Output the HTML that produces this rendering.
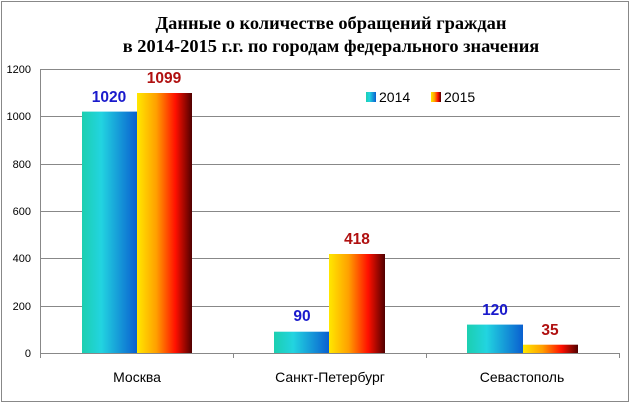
<!DOCTYPE html>
<html><head><meta charset="utf-8"><style>
body{margin:0;background:#fff;}
svg{display:block;}
</style></head><body>
<svg width="631" height="405" xmlns="http://www.w3.org/2000/svg">
<defs>
<linearGradient id="g14" x1="0" x2="1" y1="0" y2="0">
<stop offset="0" stop-color="#1ccfb0"/><stop offset="0.35" stop-color="#22d4e0"/><stop offset="1" stop-color="#0a5fd0"/>
</linearGradient>
<linearGradient id="g15" x1="0" x2="1" y1="0" y2="0">
<stop offset="0" stop-color="#ffe800"/><stop offset="0.35" stop-color="#ffa000"/><stop offset="0.7" stop-color="#ff1000"/><stop offset="1" stop-color="#500000"/>
</linearGradient>
</defs>
<rect x="1.5" y="1.5" width="627" height="400" fill="#fff" stroke="#888" stroke-width="1"/>
<text x="331" y="29" text-anchor="middle" font-family="Liberation Serif, serif" font-weight="bold" font-size="18.4">Данные о количестве обращений граждан</text>
<text x="331" y="52" text-anchor="middle" font-family="Liberation Serif, serif" font-weight="bold" font-size="18.4">в 2014-2015 г.г. по городам федерального значения</text>
<g stroke="#888" stroke-width="1">
<line x1="40" x2="620" y1="69.5" y2="69.5"/>
<line x1="40" x2="620" y1="116.5" y2="116.5"/>
<line x1="40" x2="620" y1="164.5" y2="164.5"/>
<line x1="40" x2="620" y1="211.5" y2="211.5"/>
<line x1="40" x2="620" y1="258.5" y2="258.5"/>
<line x1="40" x2="620" y1="306.5" y2="306.5"/>
<line x1="40" x2="620" y1="353.5" y2="353.5"/>
<line x1="40.5" x2="40.5" y1="69" y2="358"/>
<line x1="233.5" x2="233.5" y1="353" y2="358"/>
<line x1="426.5" x2="426.5" y1="353" y2="358"/>
<line x1="619.5" x2="619.5" y1="353" y2="358"/>
</g>
<g font-family="Liberation Sans, sans-serif" font-size="11" text-anchor="end" fill="#000">
<text x="31" y="73">1200</text><text x="31" y="120">1000</text><text x="31" y="168">800</text>
<text x="31" y="215">600</text><text x="31" y="262">400</text><text x="31" y="310">200</text><text x="31" y="357">0</text>
</g>
<rect x="82" y="111.6" width="55" height="241.4" fill="url(#g14)"/>
<rect x="137" y="93" width="55" height="260" fill="url(#g15)"/>
<rect x="274" y="331.7" width="55" height="21.3" fill="url(#g14)"/>
<rect x="329" y="254" width="56" height="99" fill="url(#g15)"/>
<rect x="467" y="324.6" width="56" height="28.4" fill="url(#g14)"/>
<rect x="523" y="344.7" width="55" height="8.3" fill="url(#g15)"/>
<g font-family="Liberation Sans, sans-serif" font-weight="bold" font-size="15.5" text-anchor="middle">
<text x="109" y="102" fill="#1a1acc">1020</text>
<text x="164" y="83" fill="#b01010">1099</text>
<text x="302" y="321" fill="#1a1acc">90</text>
<text x="357" y="244" fill="#b01010">418</text>
<text x="495" y="315" fill="#1a1acc">120</text>
<text x="550" y="335" fill="#b01010">35</text>
</g>
<g font-family="Liberation Sans, sans-serif" font-size="14" text-anchor="middle" fill="#000">
<text x="137" y="382">Москва</text>
<text x="330" y="382">Санкт-Петербург</text>
<text x="522" y="382">Севастополь</text>
</g>
<rect x="366" y="92" width="10" height="10" fill="url(#g14)"/>
<text x="379" y="102" font-family="Liberation Sans, sans-serif" font-size="14">2014</text>
<rect x="431" y="92" width="10" height="10" fill="url(#g15)"/>
<text x="444" y="102" font-family="Liberation Sans, sans-serif" font-size="14">2015</text>
</svg>
</body></html>
